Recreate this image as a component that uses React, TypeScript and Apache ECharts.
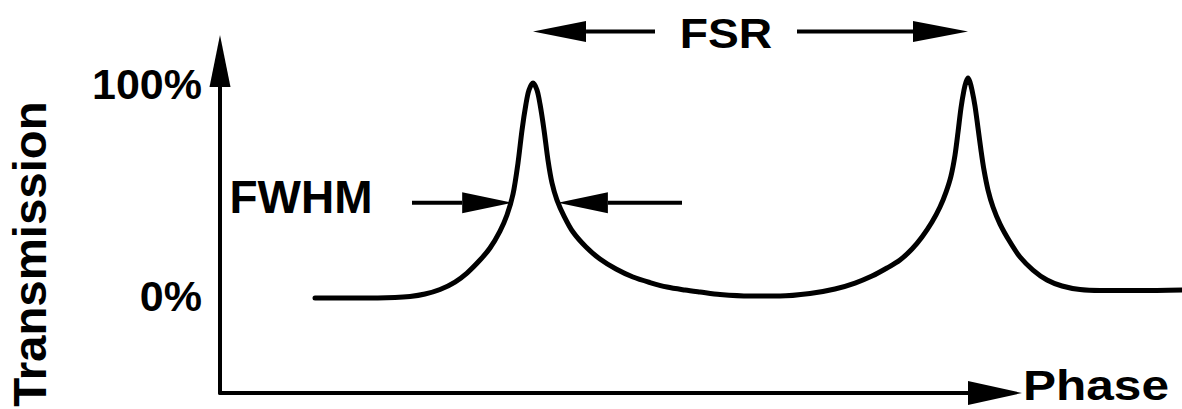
import React, { useEffect, useRef } from 'react';
import * as echarts from 'echarts';

// Curve: phase (arbitrary units) and transmission (%)
const PHASE = [
  12.26, 18.06, 22.58, 24.52, 26.45, 28.39, 30.32, 31.87, 33.55, 34.84, 36.13, 37.03, 37.81, 38.45,
  38.97, 39.48, 39.87, 40.39, 40.9, 41.29, 41.81, 42.32, 42.84, 43.48, 44.39, 45.55, 47.23, 49.03,
  51.1, 53.29, 55.48, 57.68, 60.0, 61.94, 64.52, 68.39, 72.26, 76.13, 79.35, 81.94, 84.13, 86.06,
  87.74, 89.29, 90.58, 91.87, 92.9, 93.68, 94.32, 94.84, 95.23, 95.61, 96.0, 96.26, 96.52, 96.77,
  97.03, 97.42, 97.81, 98.19, 98.58, 99.1, 99.74, 100.65, 101.94, 103.23, 104.9, 106.71, 108.65,
  110.97, 113.55, 118.71, 124.13,
];
const TRANSMISSION = [
  -1.09, -1.09, -0.85, -0.38, 0.8, 2.93, 6.48, 10.73, 16.88, 22.55, 30.59, 38.16, 48.09, 62.74,
  78.35, 90.64, 97.26, 100.57, 97.26, 90.64, 78.35, 64.16, 53.29, 45.25, 37.68, 30.12, 23.03, 17.35,
  12.62, 8.84, 6.24, 4.11, 2.7, 1.75, 0.57, -0.14, -0.14, 1.04, 3.17, 6.0, 9.31, 13.1,
  16.88, 22.08, 27.75, 34.85, 41.94, 49.03, 56.6, 66.52, 77.4, 88.75, 97.26, 101.04, 102.93, 101.04,
  97.26, 89.69, 79.29, 68.89, 59.43, 49.98, 41.94, 33.9, 25.39, 18.3, 12.15, 7.42, 4.59,
  2.93, 2.46, 2.46, 2.7,
];

const Y_TICKS = [0, 100];
const Y_TICK_LABELS = ['0%', '100%'];
const X_NAME = 'Phase';
const Y_NAME = 'Transmission';

// Annotations (data units)
const PEAK_PHASES = [40.39, 96.52];
const FSR_LEVEL = 125;
const FSR_LABEL = 'FSR';
const FWHM_EDGES = [37.7, 43.6];
const FWHM_LEVEL = 44;
const FWHM_LABEL = 'FWHM';

const FONT = '"Liberation Sans", Arial, Helvetica, sans-serif';

// Layout
const GRID_LEFT = 220;
const GRID_TOP = 61;
const GRID_W = 775;
const GRID_H = 332;
const X_MIN = 0;
const X_MAX = 100;
const Y_MIN = -46;
const Y_MAX = 111;
const CURVE_W = 1182 - GRID_LEFT; // curve runs past the axis arrow, to the right edge
const CURVE_X_MAX = X_MIN + ((X_MAX - X_MIN) * CURVE_W) / GRID_W;

function arrow(tipX: number, tipY: number, tailX: number, headLen: number, headW: number, lineW: number) {
  const dir = tailX > tipX ? 1 : -1;
  const baseX = tipX + dir * headLen;
  return [
    {
      type: 'line',
      shape: { x1: tailX, y1: tipY, x2: baseX, y2: tipY },
      style: { stroke: '#000', lineWidth: lineW },
    },
    {
      type: 'polygon',
      shape: { points: [[tipX, tipY], [baseX, tipY - headW / 2], [baseX, tipY + headW / 2]] },
      style: { fill: '#000' },
    },
  ];
}

export default function App() {
  const ref = useRef<HTMLDivElement>(null);

  useEffect(() => {
    const chart = echarts.init(ref.current as HTMLDivElement, null, { renderer: 'svg' });
    const hiddenAxis = {
      show: false,
      axisLine: { show: false },
      axisTick: { show: false },
      axisLabel: { show: false },
      splitLine: { show: false },
    };
    chart.setOption({
      animation: false,
      backgroundColor: '#ffffff',
      grid: [
        { left: GRID_LEFT, top: GRID_TOP, width: GRID_W, height: GRID_H, containLabel: false, outerBoundsMode: 'none' },
        { left: GRID_LEFT, top: GRID_TOP, width: CURVE_W, height: GRID_H, containLabel: false, outerBoundsMode: 'none' },
      ],
      xAxis: [
        {
          gridIndex: 0,
          type: 'value',
          min: X_MIN,
          max: X_MAX,
          axisLine: {
            onZero: false,
            lineStyle: { color: '#000', width: 4 },
            symbol: ['none', 'triangle'],
            symbolSize: [24, 54],
          },
          axisTick: { show: false },
          axisLabel: { show: false },
          splitLine: { show: false },
        },
        { gridIndex: 1, type: 'value', min: X_MIN, max: CURVE_X_MAX, ...hiddenAxis },
      ],
      yAxis: [
        {
          gridIndex: 0,
          type: 'value',
          min: Y_MIN,
          max: Y_MAX,
          axisLine: {
            show: true,
            onZero: false,
            lineStyle: { color: '#000', width: 4 },
            symbol: ['none', 'triangle'],
            symbolSize: [21, 52],
          },
          axisTick: { show: false },
          splitLine: { show: false },
          axisLabel: {
            customValues: Y_TICKS,
            formatter: (v: number) => Y_TICK_LABELS[Y_TICKS.indexOf(v)] ?? '',
            fontSize: 43,
            fontWeight: 'bold',
            fontFamily: FONT,
            color: '#000',
            margin: 18,
          },
        },
        { gridIndex: 1, type: 'value', min: Y_MIN, max: Y_MAX, ...hiddenAxis },
      ],
      series: [
        {
          type: 'line',
          xAxisIndex: 1,
          yAxisIndex: 1,
          data: PHASE.map((p, i) => [p, TRANSMISSION[i]]),
          showSymbol: false,
          symbol: 'none',
          smooth: 0.3,
          clip: false,
          lineStyle: { color: '#000', width: 5, join: 'round', cap: 'round' },
        },
      ],
    });

    const px = (x: number, y: number) => chart.convertToPixel({ gridIndex: 0 }, [x, y]) as number[];
    const fsrL = px(PEAK_PHASES[0], FSR_LEVEL);
    const fsrR = px(PEAK_PHASES[1], FSR_LEVEL);
    const fwL = px(FWHM_EDGES[0], FWHM_LEVEL);
    const fwR = px(FWHM_EDGES[1], FWHM_LEVEL);

    const textStyle = (text: string, size: number) => ({
      text,
      fill: '#000',
      fontSize: size,
      fontWeight: 'bold',
      fontFamily: FONT,
      align: 'center',
      verticalAlign: 'middle',
    });

    chart.setOption({
      graphic: [
        ...arrow(fsrL[0], fsrL[1], 655, 53, 21, 4),
        ...arrow(fsrR[0], fsrR[1], 797, 55, 21, 4),
        ...arrow(fwL[0], fwL[1], 412, 50, 21, 4),
        ...arrow(fwR[0], fwR[1], 682, 50, 21, 4),
        { type: 'text', x: 726, y: 33, scaleX: 1.1, style: textStyle(FSR_LABEL, 42) },
        { type: 'text', x: 301, y: 197, style: textStyle(FWHM_LABEL, 46) },
        { type: 'text', x: 30, y: 254, rotation: Math.PI / 2, scaleX: 1.03, style: textStyle(Y_NAME, 46) },
        { type: 'text', x: 1096, y: 385, scaleX: 1.18, style: textStyle(X_NAME, 42) },
      ],
    });

    return () => chart.dispose();
  }, []);

  return (
    <div
      ref={ref}
      style={{ position: 'absolute', left: 0, top: 0, width: 1182, height: 409, background: '#fff' }}
    />
  );
}
